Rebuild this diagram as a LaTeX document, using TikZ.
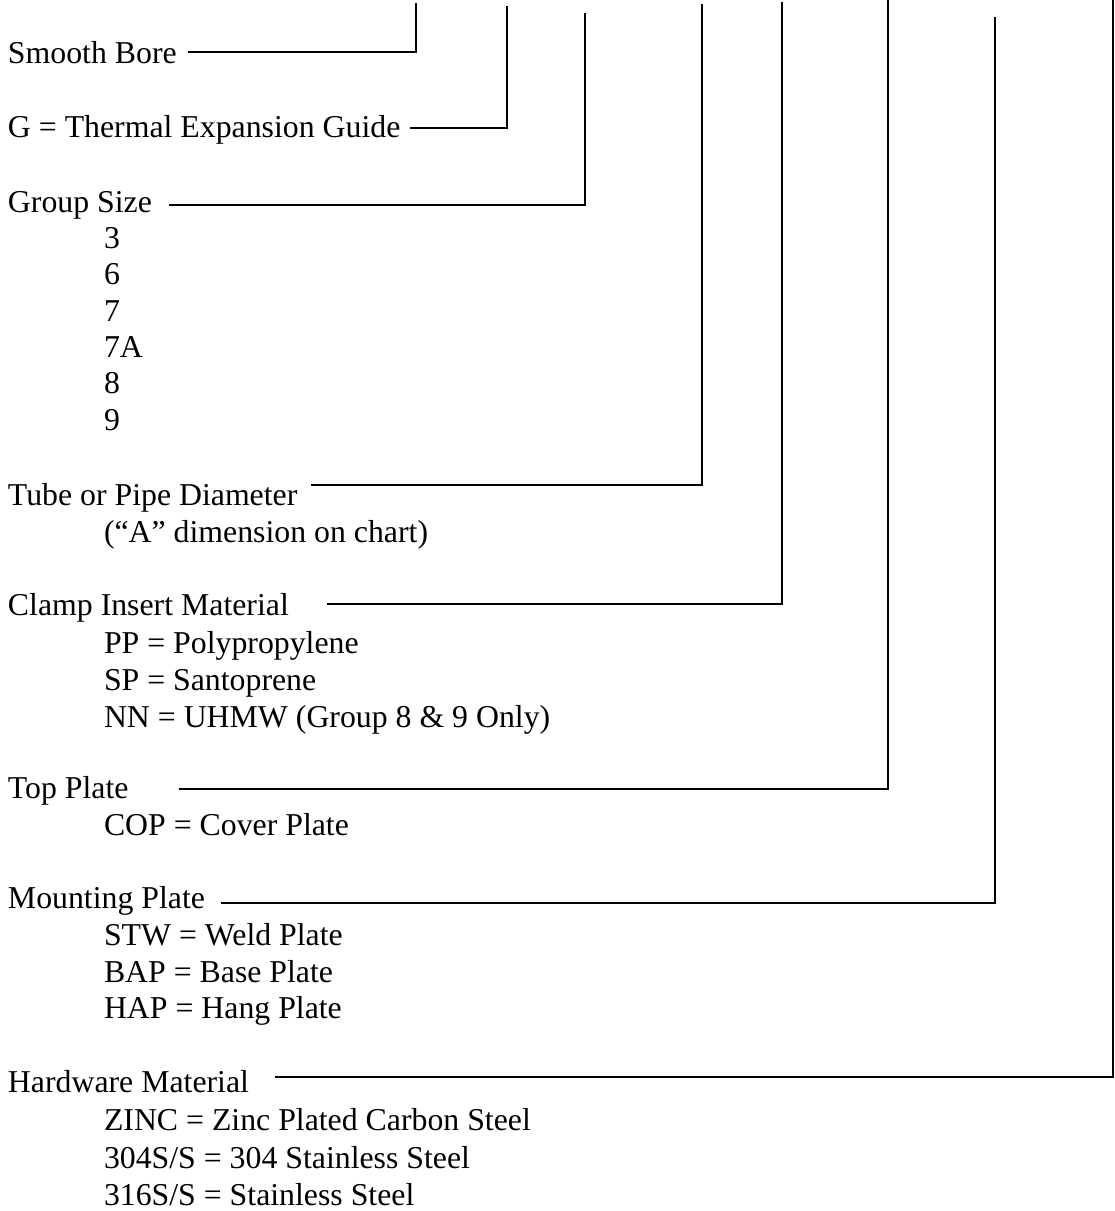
\documentclass[tikz,border=0pt]{standalone}
\usepackage{fontspec}
\setmainfont{Liberation Serif}
\begin{document}
\begin{tikzpicture}[x=1pt,y=1pt,
  lbl/.style={anchor=base west,inner sep=0pt,outer sep=0pt,font=\fontsize{31.8pt}{37pt}\selectfont},
  lead/.style={line width=1.8pt,line join=miter}]
\useasboundingbox (0,0) rectangle (1115,-1211);
% top ends of the leader lines
\coordinate (t1) at (416,-3);
\coordinate (t2) at (507,-6);
\coordinate (t3) at (585,-13);
\coordinate (t4) at (702,-4);
\coordinate (t5) at (782,-2);
\coordinate (t6) at (888,0);
\coordinate (t7) at (995,-17);
\coordinate (t8) at (1113,0);
% headings
\node[lbl] (sb) at (8,-63) {Smooth Bore};
\node[lbl] (g) at (8,-137) {G = Thermal Expansion Guide};
\node[lbl] (gs) at (8,-212) {Group Size};
\node[lbl] (tube) at (8,-505) {Tube or Pipe Diameter};
\node[lbl] (clamp) at (8,-615) {Clamp Insert Material};
\node[lbl] (top) at (8,-798) {Top Plate};
\node[lbl] (mount) at (8,-908) {Mounting Plate};
\node[lbl] (hw) at (8,-1092) {Hardware Material};
% options
\node[lbl] (o3) at (104,-248) {3};
\node[lbl] (o6) at (104,-284) {6};
\node[lbl] (o7) at (104,-321) {7};
\node[lbl] (o7a) at (104,-357) {7A};
\node[lbl] (o8) at (104,-393) {8};
\node[lbl] (o9) at (104,-430) {9};
\node[lbl] (adim) at (104,-542) {(“A” dimension on chart)};
\node[lbl] (pp) at (104,-653) {PP = Polypropylene};
\node[lbl] (sp) at (104,-690) {SP = Santoprene};
\node[lbl] (nn) at (104,-727) {NN = UHMW (Group 8 \& 9 Only)};
\node[lbl] (cop) at (104,-835) {COP = Cover Plate};
\node[lbl] (stw) at (104,-945) {STW = Weld Plate};
\node[lbl] (bap) at (104,-982) {BAP = Base Plate};
\node[lbl] (hap) at (104,-1018) {HAP = Hang Plate};
\node[lbl] (zinc) at (104,-1130) {ZINC = Zinc Plated Carbon Steel};
\node[lbl] (s304) at (104,-1168) {304S/S = 304 Stainless Steel};
\node[lbl] (s316) at (104,-1205) {316S/S = Stainless Steel};
% leaders
\draw[lead] ([xshift=11pt,yshift=11pt]sb.base east) -| (t1);
\draw[lead] ([xshift=10pt,yshift=9pt]g.base east) -| (t2);
\draw[lead] ([xshift=17pt,yshift=7pt]gs.base east) -| (t3);
\draw[lead] ([xshift=14pt,yshift=20pt]tube.base east) -| (t4);
\draw[lead] ([xshift=38pt,yshift=11pt]clamp.base east) -| (t5);
\draw[lead] ([xshift=50pt,yshift=9pt]top.base east) -| (t6);
\draw[lead] ([xshift=16pt,yshift=5pt]mount.base east) -| (t7);
\draw[lead] ([xshift=26pt,yshift=15pt]hw.base east) -| (t8);
\end{tikzpicture}
\end{document}
